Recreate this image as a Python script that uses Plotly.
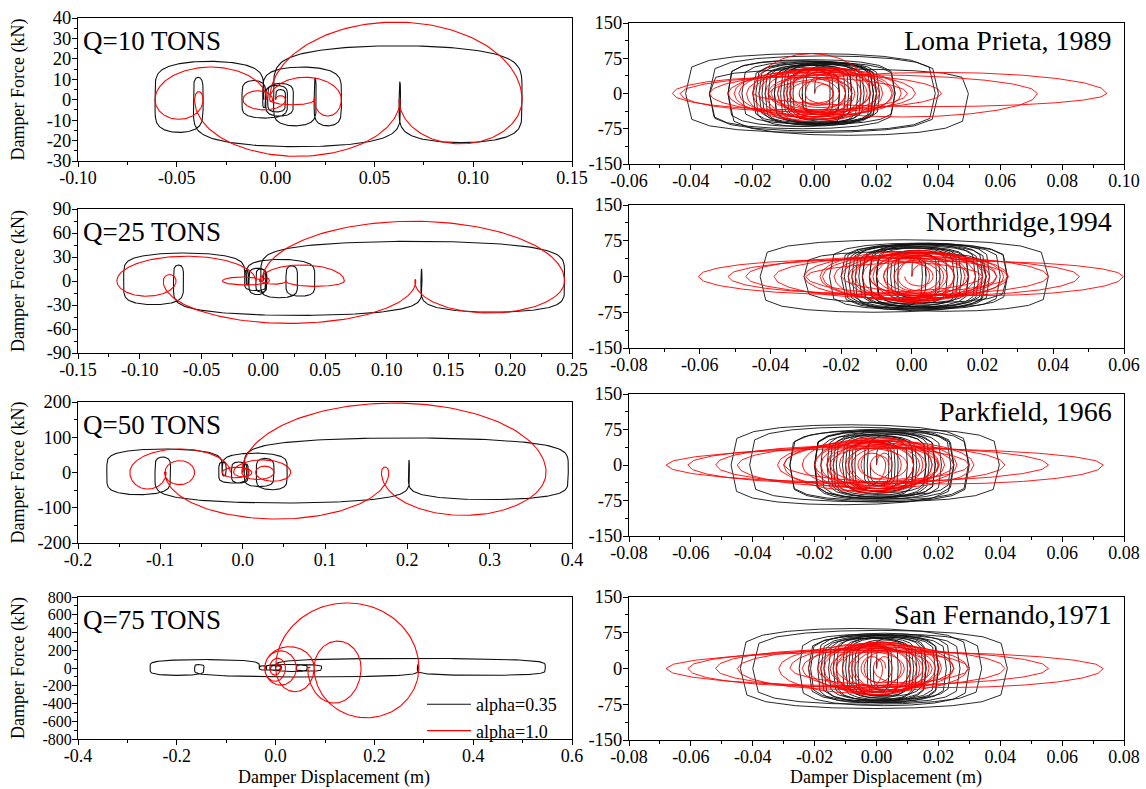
import numpy as np
import plotly.graph_objects as go
from plotly.subplots import make_subplots

# Damper hysteresis: each series is a chain of half-cycles given by its
# displacement turning points [m] and the peak force of each half-cycle [kN].

# ---- Q = 10 tons
q10_black_turns = [0.0, 0.005, -0.004, 0.009, -0.005, 0.006, -0.017, -0.005, -0.0065, 0.0333,
                   0.0195, 0.0205, -0.001, 0.1247, 0.0625, 0.0632, -0.0416, -0.0367, -0.061, -0.006]
q10_black_peaks = [5, 6, 8, 8, 7, 9, 9.4, 4, 16, 12.8, 10.5, 12.8, 26.4, 21, 8.6, 23, 11, 16, 18.8]
q10_red_turns = [0.0, 0.005, -0.0165, -0.0015, -0.003, 0.0333, 0.0195, 0.0198, -0.003, 0.1247,
                 0.0625, 0.0630, -0.041, -0.0367, -0.061, -0.0045]
q10_red_peaks = [2, 5, 4.4, 1, 11, 8, 1, 2.5, 38, 21.6, 0.5, 27.7, 4, 9.6, 16]

# ---- Q = 25 tons
q25_black_turns = [0.0, 0.003, -0.006, 0.002, -0.0116, 0.0028, -0.015, -0.012, -0.0137, 0.0417,
                   0.0184, 0.0277, -0.002, 0.244, 0.1277, 0.1285, -0.0727, -0.0646, -0.113, -0.015]
q25_black_peaks = [10, 14, 15, 17, 16, 12, 14, 5, 27, 19, 19, 21, 49.6, 39, 15, 43, 20, 29.6, 35]
q25_red_turns = [0.0, 0.005, -0.033, -0.0015, -0.003, 0.0657, 0.018, 0.0185, -0.001, 0.244,
                 0.1226, 0.1235, -0.081, -0.0706, -0.1185, -0.006]
q25_red_peaks = [4, 5, 5, 1, 20, 6.7, 1, 4, 74.6, 40, 1.7, 53, 8, 19, 31]

# ---- Q = 50 tons
q50_black_turns = [0.0, 0.0067, -0.0135, 0.005, -0.029, -0.020, -0.0247, 0.054, 0.0166, 0.038,
                   0.002, 0.3955, 0.2013, 0.2025, -0.1065, -0.0876, -0.165, -0.025]
q50_black_peaks = [25, 30, 30, 30, 30, 10, 55, 49, 40, 40, 98, 77, 35, 86.5, 44, 63, 66.7]
q50_red_turns = [0.0, 0.008, -0.0247, 0.0112, -0.011, 0.0584, 0.0157, 0.038, -0.001, 0.3685,
                 0.1685, 0.1775, -0.0944, -0.0584, -0.095, -0.093, -0.137, -0.015]
q50_red_peaks = [10, 15, 15, 12, 36, 25, 18, 20, 197, 121.5, 15.6, 132, 33.6, 34.5, 2, 47, 66.7]

# ---- Q = 75 tons
q75_black_turns = [0.0, 0.01, -0.01, 0.012, -0.033, -0.018, -0.02, 0.093, 0.042, 0.064,
                   0.0, 0.546, 0.287, 0.289, -0.164, -0.145, -0.254, -0.033]
q75_black_peaks = [25, 30, 30, 25, 25, 10, 40, 35, 35, 40, 108, 83, 35, 101, 40, 83, 95]
q75_red_turns = [0.0, 0.01, -0.012, 0.02, -0.022, 0.042, -0.022, 0.078, 0.0, 0.290,
                 0.078, 0.173, 0.065, 0.07]
q75_red_peaks = [50, 80, 110, 150, 193, 193, 240, 267, 733, 561, 303, 395, 10]

# ---- Loma Prieta, 1989
lp_black_turns = [0.0, 0.005, -0.004, 0.008, -0.007, 0.011, -0.010, 0.012, -0.013, 0.016,
                  -0.015, 0.019, -0.018, 0.020, -0.020, 0.026, -0.0235, 0.020, -0.028, 0.026,
                  -0.034, 0.040, -0.0417, 0.039, -0.034, 0.0497, -0.028, 0.019, -0.013, 0.012,
                  -0.008, 0.006, -0.003, 0.015, -0.011, 0.018, -0.016, 0.010, -0.019, 0.021,
                  -0.009, 0.014, -0.017, 0.008, -0.004]
lp_black_peaks = [35, 40, 45, 50, 55, 55, 60, 60, 62, 62, 63, 63, 65, 65, 66, 66, 68, 70, 72, 75,
                  80, 83, 85, 80, 52, 89, 70, 65, 60, 55, 50, 45, 62, 64, 66, 68, 60, 70, 68, 60,
                  64, 66, 55, 45]
lp_red_turns = [0.0, 0.006, -0.005, 0.010, -0.009, 0.013, -0.012, 0.017, -0.016, 0.020,
                -0.020, 0.0255, -0.0245, 0.021, -0.028, 0.0326, -0.034, 0.041, -0.046, 0.030,
                -0.0435, 0.072, -0.015, 0.0945, -0.02, 0.018, -0.014, 0.012, -0.008, 0.006,
                -0.003, 0.015, -0.012, 0.022, -0.018, 0.010, -0.022, 0.025, -0.008, 0.018,
                -0.026, 0.012, -0.010, 0.028, -0.015, 0.008, -0.005]
lp_red_peaks = [20, 25, 30, 35, 40, 45, 50, 55, 55, 60, 55, 50, 50, 45, 45, 40, 40, 35, 35, 38,
                40, 50, 45, 28, 85, 40, 35, 30, 25, 20, 45, 50, 55, 55, 50, 55, 50, 45, 55, 50,
                45, 45, 50, 45, 35, 25]

# ---- Northridge, 1994
nr_black_turns = [0.0, 0.004, -0.004, 0.007, -0.007, 0.010, -0.010, 0.013, -0.012, 0.016,
                  -0.014, 0.019, -0.017, 0.021, -0.0191, 0.025, -0.0233, 0.027, -0.0305, 0.021,
                  -0.0429, 0.0386, -0.020, 0.027, -0.014, 0.016, -0.010, 0.008, -0.005, 0.003,
                  -0.016, 0.018, -0.012, 0.022, -0.018, 0.014, -0.010, 0.020, -0.015, 0.012,
                  -0.006, 0.004]
nr_black_peaks = [40, 45, 50, 52, 55, 58, 60, 62, 62, 64, 64, 66, 66, 68, 68, 70, 70, 56, 52, 75,
                  77, 73, 68, 65, 60, 55, 50, 45, 40, 66, 68, 64, 70, 68, 64, 60, 68, 64, 60, 50,
                  40]
nr_red_turns = [0.0, 0.005, -0.005, 0.009, -0.008, 0.012, -0.011, 0.015, -0.014, 0.018,
                -0.017, 0.021, -0.0253, 0.0273, -0.0305, 0.024, -0.039, 0.0386, -0.047, 0.0273,
                -0.0604, 0.020, -0.052, 0.0474, -0.030, 0.0598, -0.020, 0.016, -0.012, 0.008,
                -0.004, 0.020, -0.016, 0.012, -0.022, 0.026, -0.010, 0.016, -0.026, 0.022,
                -0.012, 0.010, -0.018, 0.024, -0.008, 0.006, -0.002]
nr_red_peaks = [25, 30, 35, 40, 45, 50, 52, 55, 55, 52, 50, 50, 48, 48, 45, 45, 42, 40, 40, 38,
                35, 35, 38, 40, 32, 40, 45, 40, 35, 30, 50, 52, 48, 50, 50, 45, 50, 48, 52, 45,
                42, 48, 50, 40, 30, 20]

# ---- Parkfield, 1966
pf_black_turns = [0.0, 0.004, -0.004, 0.007, -0.007, 0.010, -0.010, 0.013, -0.013, 0.016,
                  -0.016, 0.019, -0.020, 0.025, -0.020, 0.0297, -0.028, 0.0397, -0.041, 0.025,
                  -0.047, 0.030, -0.028, 0.019, -0.015, 0.012, -0.009, 0.006, -0.003, 0.017,
                  -0.014, 0.021, -0.018, 0.012, -0.020, 0.024, -0.011, 0.016, -0.008, 0.005,
                  -0.002]
pf_black_peaks = [40, 45, 50, 55, 58, 60, 62, 64, 66, 68, 70, 70, 72, 72, 74, 75, 76, 78, 80, 84,
                  85, 78, 72, 68, 62, 56, 50, 44, 66, 68, 70, 72, 64, 72, 74, 64, 66, 58, 48, 40]
pf_red_turns = [0.0, 0.005, -0.005, 0.008, -0.009, 0.012, -0.012, 0.015, -0.016, 0.018,
                -0.020, 0.0203, -0.030, 0.0315, -0.032, 0.025, -0.045, 0.0415, -0.052, 0.030,
                -0.061, 0.0556, -0.068, 0.0733, -0.030, 0.020, -0.015, 0.010, -0.006, 0.003,
                -0.014, 0.018, -0.018, 0.022, -0.024, 0.012, -0.010, 0.020, -0.016, 0.026,
                -0.020, 0.014, -0.008, 0.016, -0.002, 0.004]
pf_red_peaks = [25, 30, 35, 40, 45, 50, 52, 55, 58, 60, 58, 55, 52, 50, 48, 45, 42, 40, 40, 38,
                38, 36, 35, 40, 45, 40, 35, 30, 25, 50, 52, 55, 55, 50, 52, 50, 45, 50, 50, 45,
                48, 45, 40, 30, 20]

# ---- San Fernando, 1971
sf_black_turns = [0.0, 0.004, -0.003, 0.007, -0.006, 0.010, -0.009, 0.013, -0.011, 0.016,
                  -0.0155, 0.019, -0.0213, 0.0226, -0.018, 0.027, -0.022, 0.034, -0.040, 0.0423,
                  -0.044, 0.030, -0.025, 0.020, -0.014, 0.011, -0.008, 0.005, -0.002, 0.016,
                  -0.013, 0.020, -0.017, 0.012, -0.019, 0.024, -0.010, 0.015, -0.007, 0.004,
                  -0.001]
sf_black_peaks = [45, 50, 55, 58, 60, 62, 64, 65, 66, 66, 68, 68, 70, 70, 70, 72, 72, 75, 80, 84,
                  84, 78, 72, 68, 64, 58, 52, 46, 66, 68, 70, 72, 64, 72, 74, 64, 66, 58, 48, 40]
sf_red_turns = [0.0, 0.005, -0.004, 0.008, -0.008, 0.011, -0.011, 0.014, -0.014, 0.017,
                -0.018, 0.0203, -0.0316, 0.0295, -0.024, 0.025, -0.045, 0.0415, -0.052, 0.030,
                -0.061, 0.0556, -0.068, 0.0733, -0.028, 0.018, -0.013, 0.009, -0.005, 0.002,
                -0.013, 0.016, -0.017, 0.021, -0.022, 0.011, -0.009, 0.019, -0.015, 0.025,
                -0.019, 0.013, -0.007, 0.015, -0.001, 0.003]
sf_red_peaks = [25, 30, 35, 40, 45, 50, 52, 55, 56, 56, 55, 52, 50, 48, 46, 44, 42, 40, 40, 38,
                38, 36, 35, 40, 44, 40, 35, 30, 25, 50, 52, 55, 55, 50, 52, 50, 45, 50, 50, 45,
                48, 45, 40, 30, 20]

# ---- axis ticks
x_ticks_q10 = [-0.10, -0.05, 0.0, 0.05, 0.10, 0.15]
x_text_q10 = ["-0.10", "-0.05", "0.00", "0.05", "0.10", "0.15"]
y_ticks_q10 = [-30, -20, -10, 0, 10, 20, 30, 40]
x_ticks_q25 = [-0.15, -0.10, -0.05, 0.0, 0.05, 0.10, 0.15, 0.20, 0.25]
x_text_q25 = ["-0.15", "-0.10", "-0.05", "0.00", "0.05", "0.10", "0.15", "0.20", "0.25"]
y_ticks_q25 = [-90, -60, -30, 0, 30, 60, 90]
x_ticks_q50 = [-0.2, -0.1, 0.0, 0.1, 0.2, 0.3, 0.4]
x_text_q50 = ["-0.2", "-0.1", "0.0", "0.1", "0.2", "0.3", "0.4"]
y_ticks_q50 = [-200, -100, 0, 100, 200]
x_ticks_q75 = [-0.4, -0.2, 0.0, 0.2, 0.4, 0.6]
x_text_q75 = ["-0.4", "-0.2", "0.0", "0.2", "0.4", "0.6"]
y_ticks_q75 = [-800, -600, -400, -200, 0, 200, 400, 600, 800]
x_ticks_lp = [-0.06, -0.04, -0.02, 0.0, 0.02, 0.04, 0.06, 0.08, 0.10]
x_text_lp = ["-0.06", "-0.04", "-0.02", "0.00", "0.02", "0.04", "0.06", "0.08", "0.10"]
x_ticks_nr = [-0.08, -0.06, -0.04, -0.02, 0.0, 0.02, 0.04, 0.06]
x_text_nr = ["-0.08", "-0.06", "-0.04", "-0.02", "0.00", "0.02", "0.04", "0.06"]
x_ticks_eq = [-0.08, -0.06, -0.04, -0.02, 0.0, 0.02, 0.04, 0.06, 0.08]
x_text_eq = ["-0.08", "-0.06", "-0.04", "-0.02", "0.00", "0.02", "0.04", "0.06", "0.08"]
y_ticks_eq = [-150, -75, 0, 75, 150]

ALPHA_BLACK = 0.35
ALPHA_RED = 1.0
FONT = "Liberation Serif, Times New Roman, serif"


def damper_path(turns, peaks, alpha, n):
    """Force-displacement path of a viscous damper, F ~ sign(v)|v|^alpha,
    for harmonic half-cycles between successive turning points."""
    th = np.linspace(0.0, np.pi, n)
    xs, fs = [turns[0]], [0.0]
    for a, b, p in zip(turns[:-1], turns[1:], peaks):
        mid, half = 0.5 * (a + b), 0.5 * (b - a)
        x = mid - half * np.cos(th)
        f = np.sign(b - a) * p * np.abs(np.sin(th)) ** alpha
        xs.extend(x[1:])
        fs.extend(f[1:])
    return xs, fs


def labels(vals):
    return [str(v) for v in vals]


panels = [
    # row, col, black, red, samples, x ticks, x text, y ticks, x range, y range, label
    (1, 1, (q10_black_turns, q10_black_peaks), (q10_red_turns, q10_red_peaks), (90, 90),
     x_ticks_q10, x_text_q10, y_ticks_q10, [-0.10, 0.15], [-30, 40], "Q=10 TONS"),
    (1, 2, (lp_black_turns, lp_black_peaks), (lp_red_turns, lp_red_peaks), (11, 13),
     x_ticks_lp, x_text_lp, y_ticks_eq, [-0.06, 0.10], [-150, 150], "Loma Prieta, 1989"),
    (2, 1, (q25_black_turns, q25_black_peaks), (q25_red_turns, q25_red_peaks), (90, 90),
     x_ticks_q25, x_text_q25, y_ticks_q25, [-0.15, 0.25], [-90, 90], "Q=25 TONS"),
    (2, 2, (nr_black_turns, nr_black_peaks), (nr_red_turns, nr_red_peaks), (11, 13),
     x_ticks_nr, x_text_nr, y_ticks_eq, [-0.08, 0.06], [-150, 150], "Northridge,1994"),
    (3, 1, (q50_black_turns, q50_black_peaks), (q50_red_turns, q50_red_peaks), (90, 90),
     x_ticks_q50, x_text_q50, y_ticks_q50, [-0.2, 0.4], [-200, 200], "Q=50 TONS"),
    (3, 2, (pf_black_turns, pf_black_peaks), (pf_red_turns, pf_red_peaks), (11, 13),
     x_ticks_eq, x_text_eq, y_ticks_eq, [-0.08, 0.08], [-150, 150], "Parkfield, 1966"),
    (4, 1, (q75_black_turns, q75_black_peaks), (q75_red_turns, q75_red_peaks), (90, 90),
     x_ticks_q75, x_text_q75, y_ticks_q75, [-0.4, 0.6], [-800, 800], "Q=75 TONS"),
    (4, 2, (sf_black_turns, sf_black_peaks), (sf_red_turns, sf_red_peaks), (11, 13),
     x_ticks_eq, x_text_eq, y_ticks_eq, [-0.08, 0.08], [-150, 150], "San Fernando,1971"),
]

W, H = 1146, 789
# plot-area edges in pixels: (left, right, top, bottom)
boxes = {
    (1, 1): (78, 572, 18, 161), (1, 2): (629, 1124, 23, 164),
    (2, 1): (78, 572, 209, 353), (2, 2): (629, 1124, 205, 348),
    (3, 1): (78, 572, 402, 543), (3, 2): (629, 1124, 394, 536),
    (4, 1): (78, 572, 597, 739), (4, 2): (629, 1124, 597, 740),
}

fig = make_subplots(rows=4, cols=2)

annotations = []
for (row, col, black, red, (nb, nr_), xt, xtt, yt, xr, yr, label) in panels:
    legend_panel = (row, col) == (4, 1)
    bx, by = damper_path(black[0], black[1], ALPHA_BLACK, nb)
    rx, ry = damper_path(red[0], red[1], ALPHA_RED, nr_)
    lw = 1.1 if col == 1 else 0.9
    fig.add_trace(go.Scatter(x=bx, y=by, mode="lines", name="alpha=0.35",
                             line=dict(color="#111111", width=lw),
                             showlegend=legend_panel, hoverinfo="skip"), row=row, col=col)
    fig.add_trace(go.Scatter(x=rx, y=ry, mode="lines", name="alpha=1.0",
                             line=dict(color="#ff0000", width=lw),
                             showlegend=legend_panel, hoverinfo="skip"), row=row, col=col)

    l, r, t, b = boxes[(row, col)]
    xminor = [(a + c) / 2 for a, c in zip(xt[:-1], xt[1:])]
    yminor = [(a + c) / 2 for a, c in zip(yt[:-1], yt[1:])]
    # the 800 kN axis packs nine labels into the panel height, so its labels are a bit smaller
    ylab_size = 16 if len(yt) > 8 else 18.5
    axis_common = dict(showline=True, linecolor="black", linewidth=1, mirror=True,
                       ticks="outside", ticklen=5, tickcolor="black", tickwidth=1,
                       showgrid=False, zeroline=False, automargin=False)
    fig.update_xaxes(range=xr, tickmode="array", tickvals=xt, ticktext=xtt,
                     domain=[l / W, r / W], ticklabelstandoff=-5,
                     tickfont=dict(family=FONT, size=18, color="black"),
                     minor=dict(tickmode="array", tickvals=xminor, ticks="outside",
                                ticklen=3, tickcolor="black"),
                     **axis_common, row=row, col=col)
    fig.update_yaxes(range=yr, tickmode="array", tickvals=yt, ticktext=labels(yt),
                     domain=[1 - b / H, 1 - t / H], ticklabelstandoff=-3,
                     tickfont=dict(family=FONT, size=ylab_size, color="black"),
                     minor=dict(tickmode="array", tickvals=yminor, ticks="outside",
                                ticklen=3, tickcolor="black"),
                     **axis_common, row=row, col=col)

    if col == 1:
        annotations.append(dict(text=label, xref="paper", yref="paper",
                                x=(l + 3) / W, y=1 - (t + 23) / H, xanchor="left",
                                yanchor="middle", showarrow=False,
                                font=dict(family=FONT, size=27, color="black")))
        annotations.append(dict(text="Damper Force (kN)", xref="paper", yref="paper",
                                x=18 / W, y=1 - (t + b) / 2 / H, xanchor="center",
                                yanchor="middle", textangle=-90, showarrow=False,
                                font=dict(family=FONT, size=18, color="black")))
    else:
        annotations.append(dict(text=label, xref="paper", yref="paper",
                                x=(r - 10) / W, y=1 - (t + 17) / H, xanchor="right",
                                yanchor="middle", showarrow=False,
                                font=dict(family=FONT, size=28, color="black")))
    if row == 4:
        annotations.append(dict(text="Damper Displacement (m)", xref="paper", yref="paper",
                                x=((l + r) / 2 + 9) / W, y=1 - 777 / H, xanchor="center",
                                yanchor="middle", showarrow=False,
                                font=dict(family=FONT, size=18, color="black")))

fig.update_layout(
    width=W, height=H, margin=dict(l=0, r=0, t=0, b=0),
    paper_bgcolor="white", plot_bgcolor="white",
    annotations=annotations,
    showlegend=True,
    legend=dict(x=422 / W, y=1 - 686 / H, xanchor="left", yanchor="top",
                bgcolor="rgba(0,0,0,0)", borderwidth=0, itemwidth=44,
                font=dict(family=FONT, size=18, color="black"),
                tracegroupgap=0),
)

fig.write_html("out.html")
